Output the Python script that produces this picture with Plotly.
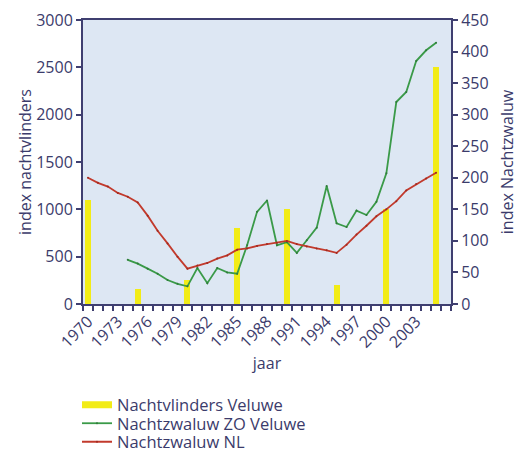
import plotly.graph_objects as go

bar_years = [1970, 1975, 1980, 1985, 1990, 1995, 2000, 2005]
nachtvlinders = [1100, 160, 255, 805, 1000, 205, 1000, 2500]

zo_years = list(range(1974, 2006))
zo_veluwe = [70, 64, 56, 48, 38, 32, 28, 57, 33, 57, 50, 48, 93, 146, 164, 93,
             98, 81, 101, 121, 187, 128, 122, 148, 141, 162, 207, 320, 336,
             385, 402, 414]

nl_years = list(range(1970, 2006))
nl = [200, 192, 186, 176, 170, 161, 140, 116, 96, 75, 56, 61, 65, 72, 77, 86,
      88, 92, 95, 97, 100, 95, 91, 88, 85, 81, 94, 110, 124, 139, 150, 163,
      180, 190, 199, 208]

tick_years = list(range(1970, 2004, 3))

TXT = "#3b3b6b"
AX = "#3f3f70"
FONT = "Open Sans"
YEL = "#f2ec16"
GRN = "#3a9a48"
RED = "#c23a2c"

fig = go.Figure()
fig.add_trace(go.Bar(x=bar_years, y=nachtvlinders, width=0.6, marker_color=YEL,
                     marker_line_width=0, showlegend=False, yaxis="y"))
fig.add_trace(go.Scatter(x=[None], y=[None], mode="lines", name="Nachtvlinders Veluwe",
                         line=dict(color=YEL, width=7), yaxis="y", legend="legend"))
fig.add_trace(go.Scatter(x=zo_years, y=zo_veluwe, mode="lines+markers",
                         name="Nachtzwaluw ZO Veluwe",
                         line=dict(color=GRN, width=1.8),
                         marker=dict(size=2, color="#2f7a3a"), yaxis="y2",
                         legend="legend2"))
fig.add_trace(go.Scatter(x=nl_years, y=nl, mode="lines+markers",
                         name="Nachtzwaluw NL",
                         line=dict(color=RED, width=1.8),
                         marker=dict(size=2, color="#a02a20"), yaxis="y2",
                         legend="legend3"))

# the page body adds an 8px offset, so figure coordinates are shifted by -8;
# the figure is made a little taller so the legends never push the margins
OFF = 8
W, H = 531, 490
PL, PR, PT, PB = 83 - OFF, 451 - OFF, 20 - OFF, 304 - OFF

def leg(ypx):
    return dict(x=(77 - OFF - PL) / (PR - PL), xanchor="left",
                y=(PB - (ypx - OFF)) / (PB - PT), yanchor="middle",
                orientation="v", font=dict(size=16.5, color=TXT),
                bgcolor="rgba(0,0,0,0)", itemwidth=30, tracegroupgap=0)

fig.update_layout(
    width=W, height=H,
    margin=dict(l=PL, r=W - PR, t=PT, b=H - PB),
    paper_bgcolor="white",
    plot_bgcolor="#dde7f3",
    font=dict(family=FONT, size=16, color=TXT),
    bargap=0,
    xaxis=dict(range=[1969.5, 2006.5], tickmode="array", tickvals=tick_years,
               ticktext=[str(y) for y in tick_years], tickangle=-45,
               ticks="", showline=True, linecolor=AX, linewidth=2, mirror=True,
               showgrid=False, zeroline=False, automargin=False,
               minor=dict(tick0=1969.5, dtick=1, ticks="outside", ticklen=5,
                          tickcolor=AX, tickwidth=1.5, showgrid=False),
               title=dict(text="jaar", font=dict(size=16, color=TXT), standoff=6)),
    yaxis=dict(range=[0, 3000], dtick=500, ticks="outside", ticklen=5,
               tickcolor=AX, tickwidth=1.5, showline=True, linecolor=AX,
               linewidth=2, showgrid=False, zeroline=False, automargin=False,
               title=dict(text="index nachtvlinders", font=dict(size=16, color=TXT),
                          standoff=0)),
    yaxis2=dict(range=[0, 450], dtick=50, overlaying="y", side="right",
                ticks="outside", ticklen=5, tickcolor=AX, tickwidth=1.5,
                showline=True, linecolor=AX, linewidth=2, showgrid=False,
                zeroline=False, automargin=False,
                title=dict(text="index Nachtzwaluw", font=dict(size=16, color=TXT),
                           standoff=14)),
    legend=leg(405),
    legend2=leg(423.5),
    legend3=leg(442),
)

fig.write_html("out.html")
